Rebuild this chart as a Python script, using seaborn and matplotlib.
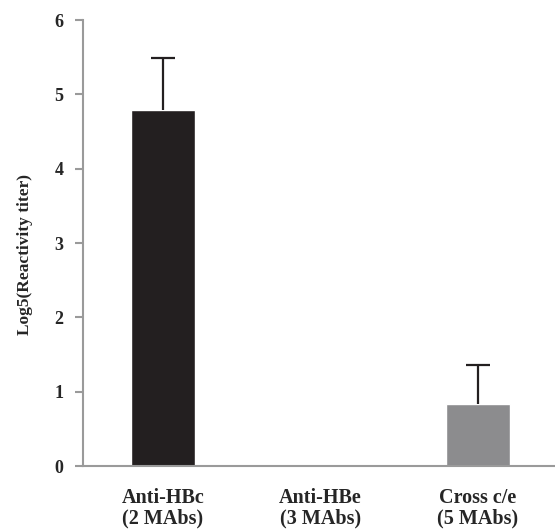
import matplotlib
matplotlib.use("Agg")
import matplotlib.pyplot as plt
import seaborn as sns
import pandas as pd

categories = ["Anti-HBc\n(2 MAbs)", "Anti-HBe\n(3 MAbs)", "Cross c/e\n(5 MAbs)"]
values = [4.79, 0.0, 0.83]
err_up = [0.70, 0.0, 0.53]
colors = ["#231f20", "#ffffff", "#8c8c8e"]

sns.set_theme(style="white")
plt.rcParams["font.family"] = ["Liberation Serif", "DejaVu Serif"]
plt.rcParams["font.weight"] = "bold"

df = pd.DataFrame({"cat": categories, "val": values})
fig = plt.figure(figsize=(5.55, 5.31), dpi=100)
ax = fig.add_axes([0.1495, 0.1224, 0.8505, 0.8399])
sns.barplot(data=df, x="cat", y="val", hue="cat", palette=colors, width=0.41,
            legend=False, ax=ax, saturation=1)
for i, (v, e) in enumerate(zip(values, err_up)):
    if e > 0:
        _, caps, _ = ax.errorbar(i, v, yerr=[[0], [e]], color="#231f20", lw=1.6,
                                 capsize=8.5, capthick=1.6, fmt="none")
        for c in caps:
            if abs(c.get_ydata()[0] - v) < 1e-9:
                c.set_visible(False)
ax.set_xlim(-0.508, 2.49)
ax.set_ylim(0, 6)
ax.set_yticks(range(0, 7))
ax.set_xlabel("")
ax.set_ylabel("Log5(Reactivity titer)", fontsize=12.5, fontweight="bold")
ax.yaxis.set_label_coords(-0.105, 0.475)
for s in ["top", "right"]:
    ax.spines[s].set_visible(False)
for s in ["left", "bottom"]:
    ax.spines[s].set_color("#9a9a9a")
    ax.spines[s].set_linewidth(1.5)
ax.tick_params(axis="y", left=True, length=6, width=1.5, color="#9a9a9a",
               labelsize=13, pad=8)
ax.tick_params(axis="x", bottom=False, labelsize=14.5, pad=10)
for lbl in ax.get_xticklabels() + ax.get_yticklabels():
    lbl.set_fontweight("bold")
for lbl in ax.get_xticklabels():
    lbl.set_linespacing(1.05)
fig.savefig("out.png", dpi=100)
